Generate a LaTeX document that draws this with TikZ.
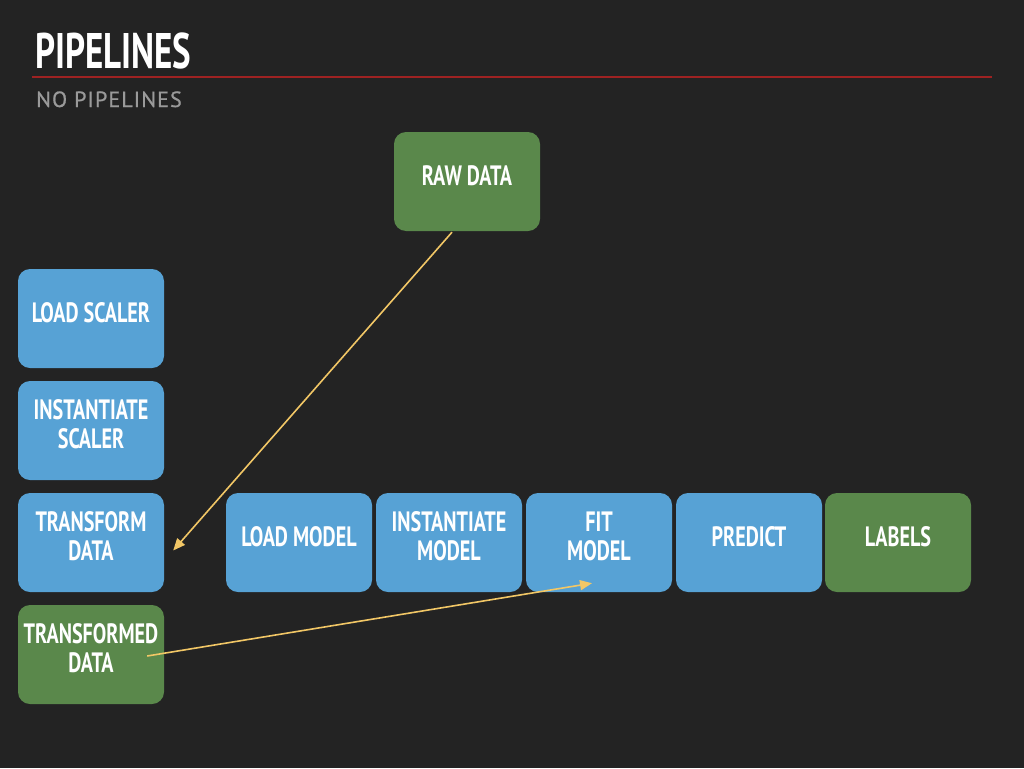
\documentclass[tikz,border=0pt]{standalone}
\usepackage{fontspec}
\setmainfont{PT Sans}
\newfontfamily\condfont{PT Sans}[FakeStretch=0.72]
\newfontfamily\titlefont{PT Sans}[FakeStretch=0.70]
\newfontfamily\subfont{PT Sans}[LetterSpace=5,FakeBold=0.8]

\usetikzlibrary{arrows.meta,calc}

\definecolor{bg}{HTML}{232323}
\definecolor{boxblue}{HTML}{57A2D5}
\definecolor{boxgreen}{HTML}{5A884B}
\definecolor{rule}{HTML}{9E2222}
\definecolor{arrowyellow}{HTML}{F2C766}
\definecolor{subgray}{HTML}{9A9A9A}

\tikzset{
  stepbox/.style={rounded corners=12pt, minimum width=146pt, minimum height=99pt,
    inner sep=0pt, draw=none},
  bluebox/.style={stepbox, fill=boxblue},
  greenbox/.style={stepbox, fill=boxgreen},
  boxtext/.style={text=white, font=\condfont\bfseries\fontsize{28}{29}\selectfont,
    align=center, inner sep=0pt, yshift=6pt},
  flow/.style={draw=arrowyellow, line width=1.6pt,
    -{Triangle[length=12pt,width=10pt]}},
}

\begin{document}
\begin{tikzpicture}[x=1pt,y=-1pt]
  \useasboundingbox (0,0) rectangle (1024,768);
  \fill[bg] (0,0) rectangle (1024,768);

  % heading
  \node[anchor=base west, inner sep=0pt, text=white,
        font=\titlefont\bfseries\fontsize{50}{50}\selectfont] (title) at (35,68) {PIPELINES};
  \draw[rule, line width=2pt] (32,77) -- (992,77);
  \node[anchor=base west, inner sep=0pt, text=subgray,
        font=\subfont\fontsize{22}{22}\selectfont] (subtitle) at (36,107) {NO PIPELINES};

  % source data
  \node[greenbox, label={[boxtext]center:RAW DATA}] (raw) at (467,181.5) {};

  % scaler steps
  \node[bluebox, label={[boxtext]center:LOAD SCALER}] (loadscaler) at (91,318.5) {};
  \node[bluebox, label={[boxtext]center:INSTANTIATE\\SCALER}] (instscaler) at (91,430.5) {};
  \node[bluebox, label={[boxtext]center:TRANSFORM\\DATA}] (transform) at (91,542.5) {};
  \node[greenbox, label={[boxtext]center:TRANSFORMED\\DATA}] (transformed) at (91,654.5) {};

  % model steps
  \node[bluebox, label={[boxtext]center:LOAD MODEL}] (loadmodel) at (299,542.5) {};
  \node[bluebox, label={[boxtext]center:INSTANTIATE\\MODEL}] (instmodel) at (449,542.5) {};
  \node[bluebox, label={[boxtext]center:FIT\\MODEL}] (fit) at (599,542.5) {};
  \node[bluebox, label={[boxtext]center:PREDICT}] (predict) at (749,542.5) {};
  \node[greenbox, label={[boxtext]center:LABELS}] (labels) at (898,542.5) {};

  % data flow
  \draw[flow] ($(raw.south)+(-15,1)$) -- ($(transform.east)+(9,8)$);
  \draw[flow] ($(transformed.east)+(-17,1.5)$) -- ($(fit.south)+(-7,-9)$);
\end{tikzpicture}
\end{document}
